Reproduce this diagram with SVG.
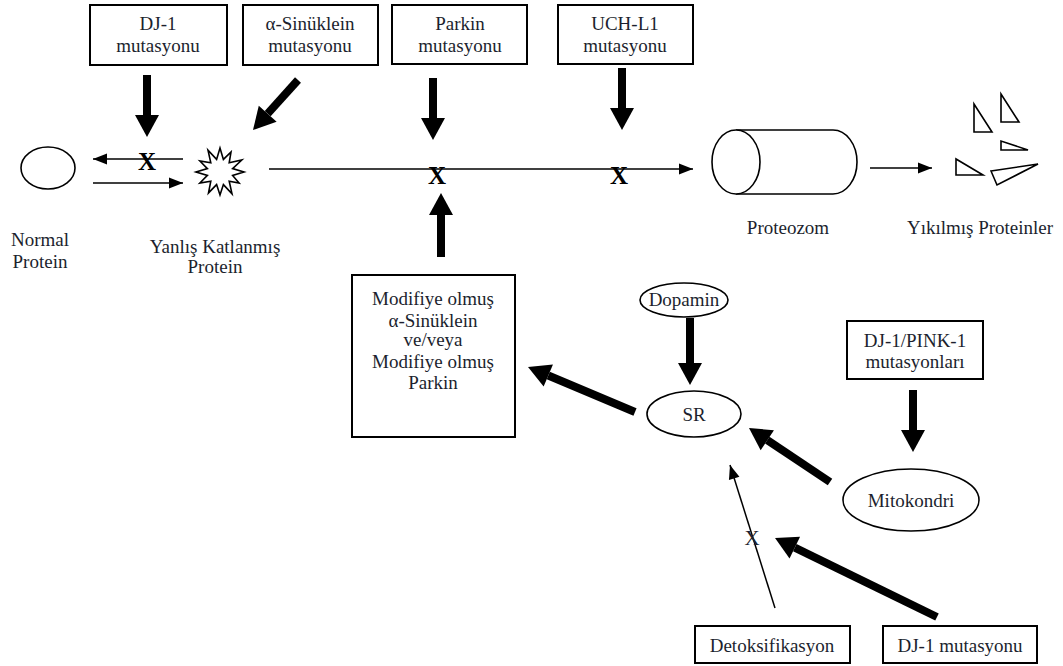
<svg xmlns="http://www.w3.org/2000/svg" width="1063" height="666" viewBox="0 0 1063 666">
<style>
text{font-family:"Liberation Serif","Times New Roman",serif;font-size:19px;fill:#1c1f2e;text-anchor:middle}
.box{fill:#fff;stroke:#000;stroke-width:2}
.shape{fill:#fff;stroke:#000;stroke-width:1.6}
.thick{stroke:#000;stroke-width:8;fill:none}
.thin{stroke:#000;stroke-width:1.5;fill:none}
.xb{font-weight:bold;font-size:25px;fill:#000}
</style>
<defs>
<marker id="big" markerUnits="userSpaceOnUse" markerWidth="24" markerHeight="26" refX="0" refY="12" orient="auto" overflow="visible">
<path d="M0,0 L22,12 L0,24 z" fill="#000"/>
</marker>
<marker id="small" markerUnits="userSpaceOnUse" markerWidth="14" markerHeight="12" refX="14" refY="5.5" orient="auto" overflow="visible">
<path d="M0,0 L14,5.5 L0,11 z" fill="#000"/>
</marker>
</defs>
<rect width="1063" height="666" fill="#fff"/>

<g id="connectors">
<line class="thick" x1="147" y1="75" x2="147" y2="115" marker-end="url(#big)"/>
<line class="thick" x1="298" y1="80" x2="267.7" y2="113.7" marker-end="url(#big)"/>
<line class="thick" x1="433" y1="78" x2="433" y2="118" marker-end="url(#big)"/>
<line class="thick" x1="622" y1="68" x2="622" y2="108" marker-end="url(#big)"/>
<line class="thick" x1="441" y1="257" x2="441" y2="215" marker-end="url(#big)"/>
<line class="thick" x1="690" y1="318" x2="690" y2="363" marker-end="url(#big)"/>
<line class="thick" stroke-width="9" x1="635" y1="412" x2="548.3" y2="375.5" marker-end="url(#big)"/>
<line class="thick" x1="913" y1="390" x2="913" y2="430" marker-end="url(#big)"/>
<line class="thick" stroke-width="9" x1="830" y1="482" x2="767.3" y2="440.2" marker-end="url(#big)"/>
<line class="thick" stroke-width="10" x1="937" y1="617" x2="794.8" y2="547.6" marker-end="url(#big)"/>
<line class="thin" x1="183" y1="159" x2="93" y2="159" marker-end="url(#small)"/>
<line class="thin" x1="93" y1="183" x2="183" y2="183" marker-end="url(#small)"/>
<line class="thin" x1="269" y1="169" x2="693" y2="169" marker-end="url(#small)"/>
<line class="thin" x1="870" y1="168" x2="932" y2="168" marker-end="url(#small)"/>
<line class="thin" x1="775" y1="608" x2="730" y2="465" marker-end="url(#small)"/>
<text class="xb" x="147" y="170">X</text>
<text class="xb" x="437" y="184">X</text>
<text class="xb" x="619" y="184">X</text>
<text x="752" y="545" style="font-size:21px">X</text>
</g>

<g id="dj1-box">
<rect class="box" x="90" y="5" width="137" height="60"/>
<text x="158" y="30">DJ-1</text>
<text x="158" y="52">mutasyonu</text>
</g>
<g id="asin-box">
<rect class="box" x="243" y="5" width="135" height="60"/>
<text x="310" y="30">α-Sinüklein</text>
<text x="310" y="52">mutasyonu</text>
</g>
<g id="parkin-box">
<rect class="box" x="392" y="5" width="135" height="59"/>
<text x="460" y="30">Parkin</text>
<text x="460" y="52">mutasyonu</text>
</g>
<g id="uchl1-box">
<rect class="box" x="558" y="5" width="135" height="59"/>
<text x="625" y="30">UCH-L1</text>
<text x="625" y="52">mutasyonu</text>
</g>

<g id="normal-protein">
<ellipse class="shape" cx="48" cy="168" rx="27" ry="21"/>
<text x="40" y="246">Normal</text>
<text x="40" y="268">Protein</text>
</g>
<g id="misfolded-protein">
<polygon class="shape" points="244,172 232.6,175.4 239.1,183 229.2,181.2 232,193.8 223.4,184.6 220,195 216.6,184.6 208.5,192.9 210.8,181.2 199.9,183 207.4,175.4 196,172 207.4,168.6 199.9,161 210.8,162.8 208,150.2 216.6,159.4 220,148 223.4,159.4 231,152 229.2,162.8 241.8,160 232.6,168.6"/>
<text x="215" y="253">Yanlış Katlanmış</text>
<text x="215" y="273">Protein</text>
</g>
<g id="proteasome">
<path class="shape" d="M736,130 L833,130 A24,32 0 0 1 833,194 L736,194"/>
<ellipse class="shape" cx="736" cy="162" rx="24" ry="32"/>
<text x="788" y="234">Proteozom</text>
</g>
<g id="degraded-proteins">
<polygon class="shape" points="974,104 974,132 992,132"/>
<polygon class="shape" points="1001,94 1001,122 1019,122"/>
<polygon class="shape" points="1001,141 1001,150 1028,150"/>
<polygon class="shape" points="956,159 956,175 983,175"/>
<polygon class="shape" points="991,171 1038,164 997,185"/>
<text x="980" y="234">Yıkılmış Proteinler</text>
</g>

<g id="modified-box">
<rect class="box" x="352" y="275" width="163" height="162"/>
<text x="433" y="305">Modifiye olmuş</text>
<text x="433" y="327">α-Sinüklein</text>
<text x="433" y="346">ve/veya</text>
<text x="433" y="368">Modifiye olmuş</text>
<text x="433" y="389">Parkin</text>
</g>
<g id="dopamin">
<ellipse class="shape" cx="684" cy="300" rx="44" ry="17"/>
<text x="684" y="306">Dopamin</text>
</g>
<g id="sr">
<ellipse class="shape" cx="694" cy="414" rx="47" ry="23"/>
<text x="694" y="421">SR</text>
</g>
<g id="pink-box">
<rect class="box" x="847" y="321" width="136" height="58"/>
<text x="915" y="347">DJ-1/PINK-1</text>
<text x="915" y="368">mutasyonları</text>
</g>
<g id="mitokondri">
<ellipse class="shape" cx="911" cy="500" rx="68" ry="31"/>
<text x="911" y="507">Mitokondri</text>
</g>
<g id="detox-box">
<rect class="box" x="695" y="626" width="155" height="37"/>
<text x="772" y="652">Detoksifikasyon</text>
</g>
<g id="dj1mut-box">
<rect class="box" x="883" y="626" width="154" height="37"/>
<text x="960" y="652">DJ-1 mutasyonu</text>
</g>
</svg>
